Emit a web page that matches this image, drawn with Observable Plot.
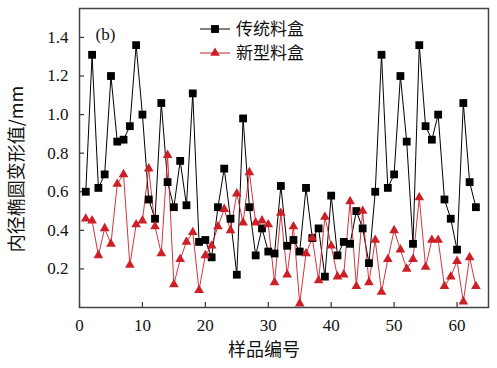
<!DOCTYPE html>
<html>
<head>
<meta charset="utf-8">
<script src="https://cdn.jsdelivr.net/npm/d3@7"></script>
<script src="https://cdn.jsdelivr.net/npm/@observablehq/plot@0.6"></script>
<style>
  html, body { margin: 0; padding: 0; background: #fff; }
</style>
</head>
<body>
<div id="chart"></div>
<script>
// Sample numbers 1..63
const samples = d3.range(1, 64);
// 传统料盒 (traditional box)
const traditional = [
  0.60, 1.31, 0.62, 0.69, 1.20, 0.86, 0.87, 0.94, 1.36, 1.00,
  0.56, 0.46, 1.06, 0.65, 0.52, 0.76, 0.53, 1.11, 0.34, 0.35,
  0.26, 0.52, 0.72, 0.46, 0.17, 0.98, 0.52, 0.27, 0.41, 0.29,
  0.28, 0.63, 0.32, 0.35, 0.29, 0.62, 0.36, 0.41, 0.16, 0.58,
  0.27, 0.34, 0.33, 0.50, 0.41, 0.23, 0.60, 1.31, 0.62, 0.69,
  1.20, 0.86, 0.33, 1.36, 0.94, 0.87, 1.00, 0.56, 0.46, 0.30,
  1.06, 0.65, 0.52
];
// 新型料盒 (new box)
const newType = [
  0.46, 0.45, 0.27, 0.41, 0.33, 0.64, 0.69, 0.22, 0.43, 0.45,
  0.72, 0.42, 0.28, 0.79, 0.12, 0.25, 0.34, 0.39, 0.09, 0.27,
  0.32, 0.42, 0.51, 0.40, 0.59, 0.44, 0.70, 0.44, 0.45, 0.43,
  0.13, 0.49, 0.17, 0.42, 0.02, 0.28, 0.36, 0.14, 0.47, 0.32,
  0.16, 0.17, 0.55, 0.11, 0.50, 0.13, 0.35, 0.08, 0.25, 0.40,
  0.30, 0.20, 0.25, 0.57, 0.21, 0.35, 0.35, 0.11, 0.16, 0.24,
  0.03, 0.26, 0.11
];
const seriesNames = ["传统料盒", "新型料盒"];
const xTicks = [0, 10, 20, 30, 40, 50, 60];
const yTicks = [0.2, 0.4, 0.6, 0.8, 1.0, 1.2, 1.4];
const xTitle = "样品编号";
const yTitle = "内径椭圆变形值/mm";
const panelLabel = "(b)";

const tradData = samples.map((s, i) => ({x: s, y: traditional[i]}));
const newData = samples.map((s, i) => ({x: s, y: newType[i]}));

const RED = "#cc1f27";
const W = 497, H = 368;
const mL = 79, mR = 9, mT = 8, mB = 61;
const innerW = W - mL - mR, innerH = H - mT - mB;
const serif = "'Liberation Serif', 'DejaVu Serif', serif";
const cjk = "'Noto Sans CJK SC', sans-serif";

// legend drawn as a render-function mark (not data)
function legend() {
  const g = d3.create("svg:g");
  const items = [
    {name: seriesNames[0], color: "#000", sym: d3.symbolSquare, size: 62, dy: 21},
    {name: seriesNames[1], color: RED, sym: d3.symbolTriangle, size: 40, dy: 45}
  ];
  for (const it of items) {
    const gy = mT + it.dy;
    const x0 = mL + 121;
    g.append("line").attr("x1", x0).attr("x2", x0 + 30).attr("y1", gy).attr("y2", gy)
      .attr("stroke", it.color).attr("stroke-width", 1);
    g.append("path").attr("d", d3.symbol(it.sym, it.size)())
      .attr("transform", `translate(${x0 + 15},${gy})`).attr("fill", it.color);
    g.append("text").attr("x", x0 + 36).attr("y", gy).attr("dy", "0.36em")
      .attr("text-anchor", "start")
      .attr("font-family", cjk).attr("font-size", 17).attr("fill", "#111")
      .text(it.name);
  }
  return g.node();
}

const chart = Plot.plot({
  width: W,
  height: H,
  marginLeft: mL,
  marginRight: mR,
  marginTop: mT,
  marginBottom: mB,
  style: {fontFamily: serif, fontSize: "17px", color: "#111", background: "#fff"},
  x: {domain: [0, 65]},
  y: {domain: [0, 1.55]},
  marks: [
    Plot.axisX({ticks: xTicks, tickSize: 0, tickPadding: 11, label: null, fontSize: 17}),
    Plot.axisY({ticks: yTicks, tickSize: 0, tickPadding: 11, label: null, fontSize: 17, tickFormat: d3.format(".1f")}),
    Plot.tickX(xTicks, {x: d => d, insetTop: innerH - 5, stroke: "#333", strokeWidth: 1.2}),
    Plot.tickY(yTicks, {y: d => d, insetRight: innerW - 5, stroke: "#333", strokeWidth: 1.2}),
    Plot.line(tradData, {x: "x", y: "y", stroke: "#000", strokeWidth: 1}),
    Plot.line(newData, {x: "x", y: "y", stroke: RED, strokeWidth: 0.9}),
    Plot.dot(tradData, {x: "x", y: "y", symbol: "square", r: 4.4, fill: "#000", stroke: "none"}),
    Plot.dot(newData, {x: "x", y: "y", symbol: "triangle", r: 3.6, fill: RED, stroke: "none"}),
    Plot.frame({stroke: "#444", strokeWidth: 1.5}),
    Plot.text([panelLabel], {frameAnchor: "top-left", dx: 16, dy: 19, fontSize: 17, fontFamily: serif, fill: "#111"}),
    Plot.text([xTitle], {frameAnchor: "bottom", dx: -20, dy: 48, fontSize: 18, fontFamily: cjk, fill: "#111"}),
    Plot.text([yTitle], {frameAnchor: "left", textAnchor: "middle", rotate: -90, dx: -62, dy: 11, fontSize: 18, fontFamily: cjk, fill: "#111"}),
    legend
  ]
});
document.getElementById("chart").appendChild(chart);
</script>
</body>
</html>
